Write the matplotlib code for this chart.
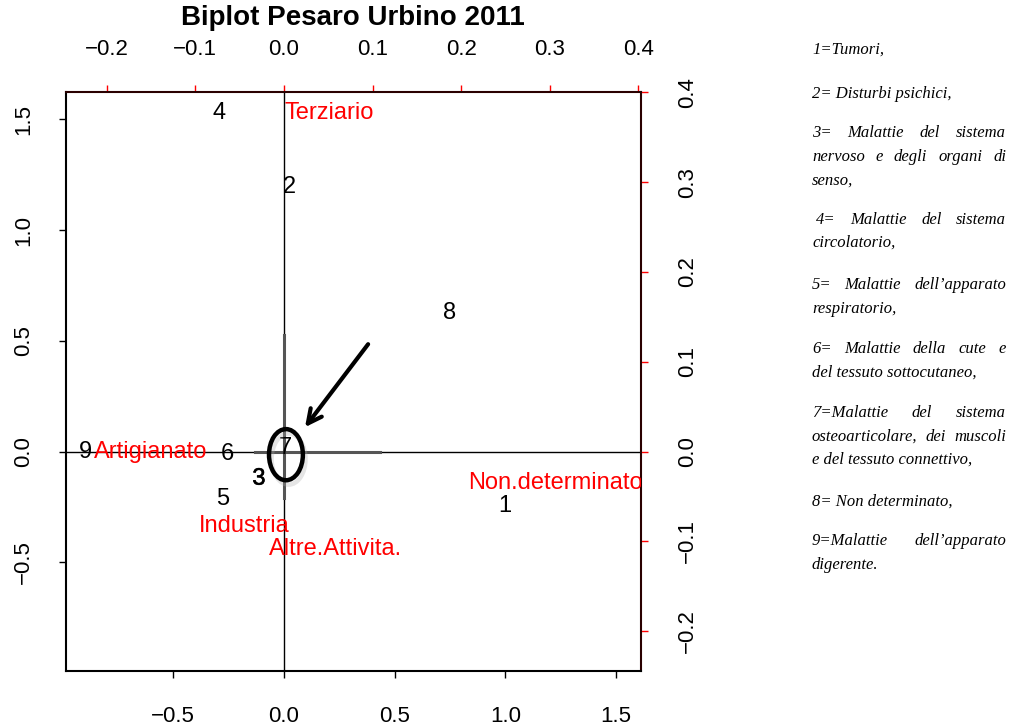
import matplotlib
matplotlib.use("Agg")
import matplotlib.pyplot as plt
import matplotlib.patheffects as pe
from matplotlib.patches import Ellipse

# Scores of the rows (causes of death), labelled 1..9
ROW_LABELS = ["1", "2", "3", "4", "5", "6", "7", "8", "9"]
ROW_X = [0.998, 0.023, -0.113, -0.293, -0.275, -0.257, 0.005, 0.749, -0.894]
ROW_Y = [-0.244, 1.195, -0.122, 1.530, -0.213, -0.010, 0.014, 0.624, -0.004]

# Loadings of the columns (economic sectors), on the secondary axes
COL_LABELS = ["Terziario", "Artigianato", "Non.determinato", "Industria", "Altre.Attivita."]
COL_X = [0.051, -0.151, 0.306, -0.045, 0.058]
COL_Y = [0.377, 0.000, -0.035, -0.083, -0.108]

# secondary axis scale factors
SX = 0.25
SY = 0.2465

PRIMARY_X_TICKS = [-0.5, 0.0, 0.5, 1.0, 1.5]
PRIMARY_Y_TICKS = [-0.5, 0.0, 0.5, 1.0, 1.5]
SECONDARY_X_TICKS = [-0.2, -0.1, 0.0, 0.1, 0.2, 0.3, 0.4]
SECONDARY_Y_TICKS = [-0.2, -0.1, 0.0, 0.1, 0.2, 0.3, 0.4]

# highlight around item 7
HIGHLIGHT_CENTER = (0.009, -0.014)
HIGHLIGHT_SIZE = (0.153, 0.231)
ARROW_FROM = (0.38, 0.485)
ARROW_TO = (0.095, 0.11)
CROSS_H = (-0.131, 0.433)
CROSS_V = (-0.208, 0.525)

# legend paragraphs; every line but the last of a paragraph is justified
LEGEND = [
    ["1=Tumori,"],
    ["2= Disturbi psichici,"],
    ["3= Malattie del sistema", "nervoso e degli organi di", "senso,"],
    [" 4= Malattie del sistema", "circolatorio,"],
    ["5= Malattie dell\u2019apparato", "respiratorio,"],
    ["6= Malattie della cute e", "del tessuto sottocutaneo,"],
    ["7=Malattie del sistema", "osteoarticolare, dei muscoli", "e del tessuto connettivo,"],
    ["8= Non determinato,"],
    ["9=Malattie dell\u2019apparato", "digerente."],
]
LEGEND_Y = [
    [50], [94], [133, 157, 181], [220, 243], [285, 309],
    [349, 373], [413, 437, 460], [502], [541, 565],
]

W, H = 1019, 727
FS = 17
TICK_FS = 16
plt.rcParams["font.family"] = ["Liberation Sans", "DejaVu Sans"]


def fmt(v):
    return f"{v:.1f}".replace("-", "\u2212")


fig = plt.figure(figsize=(W / 100, H / 100), dpi=100)
ax = fig.add_axes([66 / W, 1 - 671 / H, (641 - 66) / W, (671 - 92) / H])

ax.set_xlim(-0.984, 1.612)
ax.set_ylim(-0.991, 1.624)

# axes through the origin
ax.axhline(0, color="black", lw=1.0, zorder=1)
ax.axvline(0, color="black", lw=1.0, zorder=1)
ax.plot(CROSS_H, [0, 0], color="#555555", lw=2.2, zorder=2)
ax.plot([0, 0], CROSS_V, color="#555555", lw=2.2, zorder=2)

for lab, x, y in zip(ROW_LABELS, ROW_X, ROW_Y):
    t = ax.text(x, y, lab, fontsize=FS, color="black", ha="center", va="center", zorder=4)
    if lab == "3":
        t.set_path_effects([pe.withStroke(linewidth=0.4, foreground="black")])

for lab, x, y in zip(COL_LABELS, COL_X, COL_Y):
    ax.text(x / SX, y / SY, lab, fontsize=FS, color="red", ha="center", va="center",
            zorder=3, clip_on=True)

# ellipse with a soft shadow, and the pointer arrow
for dx, dy, c, a in [(0.012, -0.02, "#aaaaaa", 0.3), (0, 0, "black", 1.0)]:
    ax.add_patch(Ellipse((HIGHLIGHT_CENTER[0] + dx, HIGHLIGHT_CENTER[1] + dy),
                         HIGHLIGHT_SIZE[0], HIGHLIGHT_SIZE[1],
                         fill=False, ec=c, lw=3.2, alpha=a, zorder=5))
ax.annotate("", xy=ARROW_TO, xytext=ARROW_FROM,
            arrowprops=dict(arrowstyle="->,head_length=1.0,head_width=0.5",
                            color="black", lw=3.0, shrinkA=0, shrinkB=0),
            zorder=6)

# primary axes (bottom/left)
ax.set_xticks(PRIMARY_X_TICKS)
ax.set_xticklabels([fmt(t) for t in PRIMARY_X_TICKS])
ax.set_yticks(PRIMARY_Y_TICKS)
ax.set_yticklabels([fmt(t) for t in PRIMARY_Y_TICKS], rotation=90, va="center")
ax.tick_params(axis="both", direction="out", length=5, width=1, labelsize=TICK_FS,
               colors="black")
ax.tick_params(axis="x", pad=20)
ax.tick_params(axis="y", pad=18)
for side in ["left", "bottom"]:
    ax.spines[side].set_color("black")
    ax.spines[side].set_linewidth(1.5)
for side in ["top", "right"]:
    ax.spines[side].set_color("#2a0000")
    ax.spines[side].set_linewidth(1.5)

# secondary axes (top/right) with red ticks
secx = ax.secondary_xaxis("top", functions=(lambda v: v * SX, lambda v: v / SX))
secx.set_xticks(SECONDARY_X_TICKS)
secx.set_xticklabels([fmt(t) for t in SECONDARY_X_TICKS])
secx.tick_params(direction="out", length=5, width=1, pad=18, labelsize=TICK_FS,
                 color="red", labelcolor="black")
secx.spines["top"].set_visible(False)

secy = ax.secondary_yaxis("right", functions=(lambda v: v * SY, lambda v: v / SY))
secy.set_yticks(SECONDARY_Y_TICKS)
secy.set_yticklabels([fmt(t) for t in SECONDARY_Y_TICKS], rotation=90, va="center")
secy.tick_params(direction="out", length=5, width=1, pad=21, labelsize=TICK_FS,
                 color="red", labelcolor="black")
secy.spines["right"].set_visible(False)

fig.text(353 / W, 1 - 18 / H, "Biplot Pesaro Urbino 2011", fontsize=20,
         fontweight="bold", ha="center", va="center")

# justified legend text on the right
renderer = fig.canvas.get_renderer()
X0, X1 = 812, 1006
legend_kw = dict(family=["Liberation Serif", "DejaVu Serif"], style="italic",
                 fontsize=12, va="center", ha="left")


def put_line(line, ypix, justify):
    y = 1 - ypix / H
    if not justify:
        fig.text(X0 / W, y, line, **legend_kw)
        return
    x_start = X0 + (4 if line.startswith(" ") else 0)
    words = line.split()
    widths = []
    for w in words:
        t = fig.text(0, 0, w, **legend_kw)
        widths.append(t.get_window_extent(renderer).width)
        t.remove()
    gap = (X1 - x_start - sum(widths)) / max(len(words) - 1, 1)
    x = x_start
    for w, wd in zip(words, widths):
        fig.text(x / W, y, w, **legend_kw)
        x += wd + gap


for lines, ys in zip(LEGEND, LEGEND_Y):
    for i, (line, yp) in enumerate(zip(lines, ys)):
        put_line(line, yp, justify=(i < len(lines) - 1))

fig.savefig("out.png", dpi=100, facecolor="white")
